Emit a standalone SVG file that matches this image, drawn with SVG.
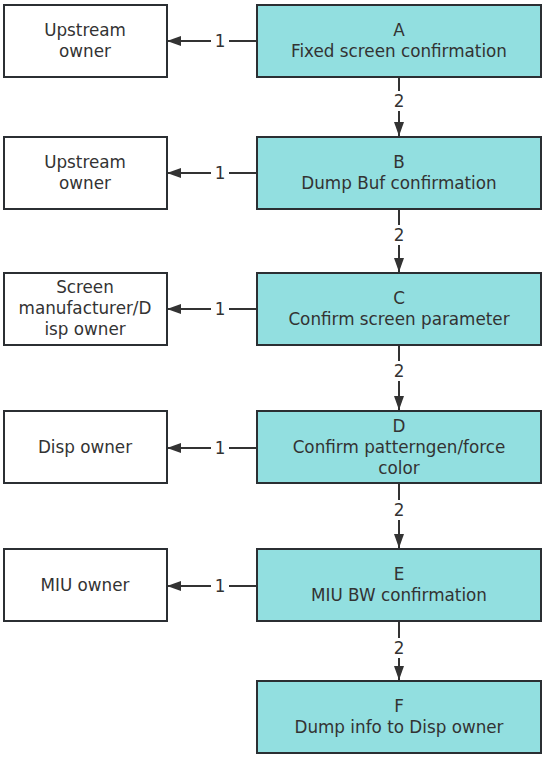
<svg xmlns="http://www.w3.org/2000/svg" width="545" height="760" viewBox="0 0 545 760">
<style>
.n{fill:#ffffff;stroke:#2b2f33;stroke-width:2}
.t{fill:#92dfe0;stroke:#2b2f33;stroke-width:2}
text{font-family:"DejaVu Sans","Noto Sans",sans-serif;font-size:16.8px;fill:#333333;text-anchor:middle}
.e{stroke:#333333;stroke-width:2;fill:none}
</style>
<defs>
<marker id="ah" viewBox="0 0 14 10" refX="14" refY="5" markerWidth="14" markerHeight="10" markerUnits="userSpaceOnUse" orient="auto">
<path d="M0,0 L14,5 L0,10 Z" fill="#333333"/>
</marker>
</defs>
<rect width="545" height="760" fill="#ffffff"/>
<g id="edges">
<line class="e" x1="257" y1="41" x2="229" y2="41"/><line class="e" x1="211" y1="41" x2="167" y2="41" marker-end="url(#ah)"/><text x="220" y="47">1</text>
<line class="e" x1="257" y1="173" x2="229" y2="173"/><line class="e" x1="211" y1="173" x2="167" y2="173" marker-end="url(#ah)"/><text x="220" y="179">1</text>
<line class="e" x1="257" y1="309" x2="229" y2="309"/><line class="e" x1="211" y1="309" x2="167" y2="309" marker-end="url(#ah)"/><text x="220" y="315">1</text>
<line class="e" x1="257" y1="448" x2="229" y2="448"/><line class="e" x1="211" y1="448" x2="167" y2="448" marker-end="url(#ah)"/><text x="220" y="454">1</text>
<line class="e" x1="257" y1="586" x2="229" y2="586"/><line class="e" x1="211" y1="586" x2="167" y2="586" marker-end="url(#ah)"/><text x="220" y="592">1</text>
<line class="e" x1="399" y1="77" x2="399" y2="91"/><line class="e" x1="399" y1="111" x2="399" y2="136" marker-end="url(#ah)"/><text x="399" y="107">2</text>
<line class="e" x1="399" y1="209" x2="399" y2="225"/><line class="e" x1="399" y1="245" x2="399" y2="272" marker-end="url(#ah)"/><text x="399" y="241">2</text>
<line class="e" x1="399" y1="345" x2="399" y2="361"/><line class="e" x1="399" y1="381" x2="399" y2="410" marker-end="url(#ah)"/><text x="399" y="377">2</text>
<line class="e" x1="399" y1="483" x2="399" y2="500"/><line class="e" x1="399" y1="520" x2="399" y2="548" marker-end="url(#ah)"/><text x="399" y="516">2</text>
<line class="e" x1="399" y1="621" x2="399" y2="638"/><line class="e" x1="399" y1="658" x2="399" y2="680" marker-end="url(#ah)"/><text x="399" y="654">2</text>
</g>
<g id="A"><rect class="t" x="257" y="5" width="284" height="72"/><text x="399" y="36">A</text><text x="399" y="57">Fixed screen confirmation</text></g>
<g id="A1"><rect class="n" x="4" y="5" width="163" height="72"/><text x="85" y="36">Upstream</text><text x="85" y="57">owner</text></g>
<g id="B"><rect class="t" x="257" y="137" width="284" height="72"/><text x="399" y="168">B</text><text x="399" y="189">Dump Buf confirmation</text></g>
<g id="B1"><rect class="n" x="4" y="137" width="163" height="72"/><text x="85" y="168">Upstream</text><text x="85" y="189">owner</text></g>
<g id="C"><rect class="t" x="257" y="273" width="284" height="72"/><text x="399" y="304">C</text><text x="399" y="325">Confirm screen parameter</text></g>
<g id="C1"><rect class="n" x="4" y="273" width="163" height="72"/><text x="85" y="293">Screen</text><text x="85" y="314">manufacturer/D</text><text x="85" y="335">isp owner</text></g>
<g id="D"><rect class="t" x="257" y="411" width="284" height="72"/><text x="399" y="432">D</text><text x="399" y="453">Confirm patterngen/force</text><text x="399" y="474">color</text></g>
<g id="D1"><rect class="n" x="4" y="411" width="163" height="72"/><text x="85" y="453">Disp owner</text></g>
<g id="E"><rect class="t" x="257" y="549" width="284" height="72"/><text x="399" y="580">E</text><text x="399" y="601">MIU BW confirmation</text></g>
<g id="E1"><rect class="n" x="4" y="549" width="163" height="72"/><text x="85" y="591">MIU owner</text></g>
<g id="F"><rect class="t" x="257" y="681" width="284" height="72"/><text x="399" y="712">F</text><text x="399" y="733">Dump info to Disp owner</text></g>
</svg>
